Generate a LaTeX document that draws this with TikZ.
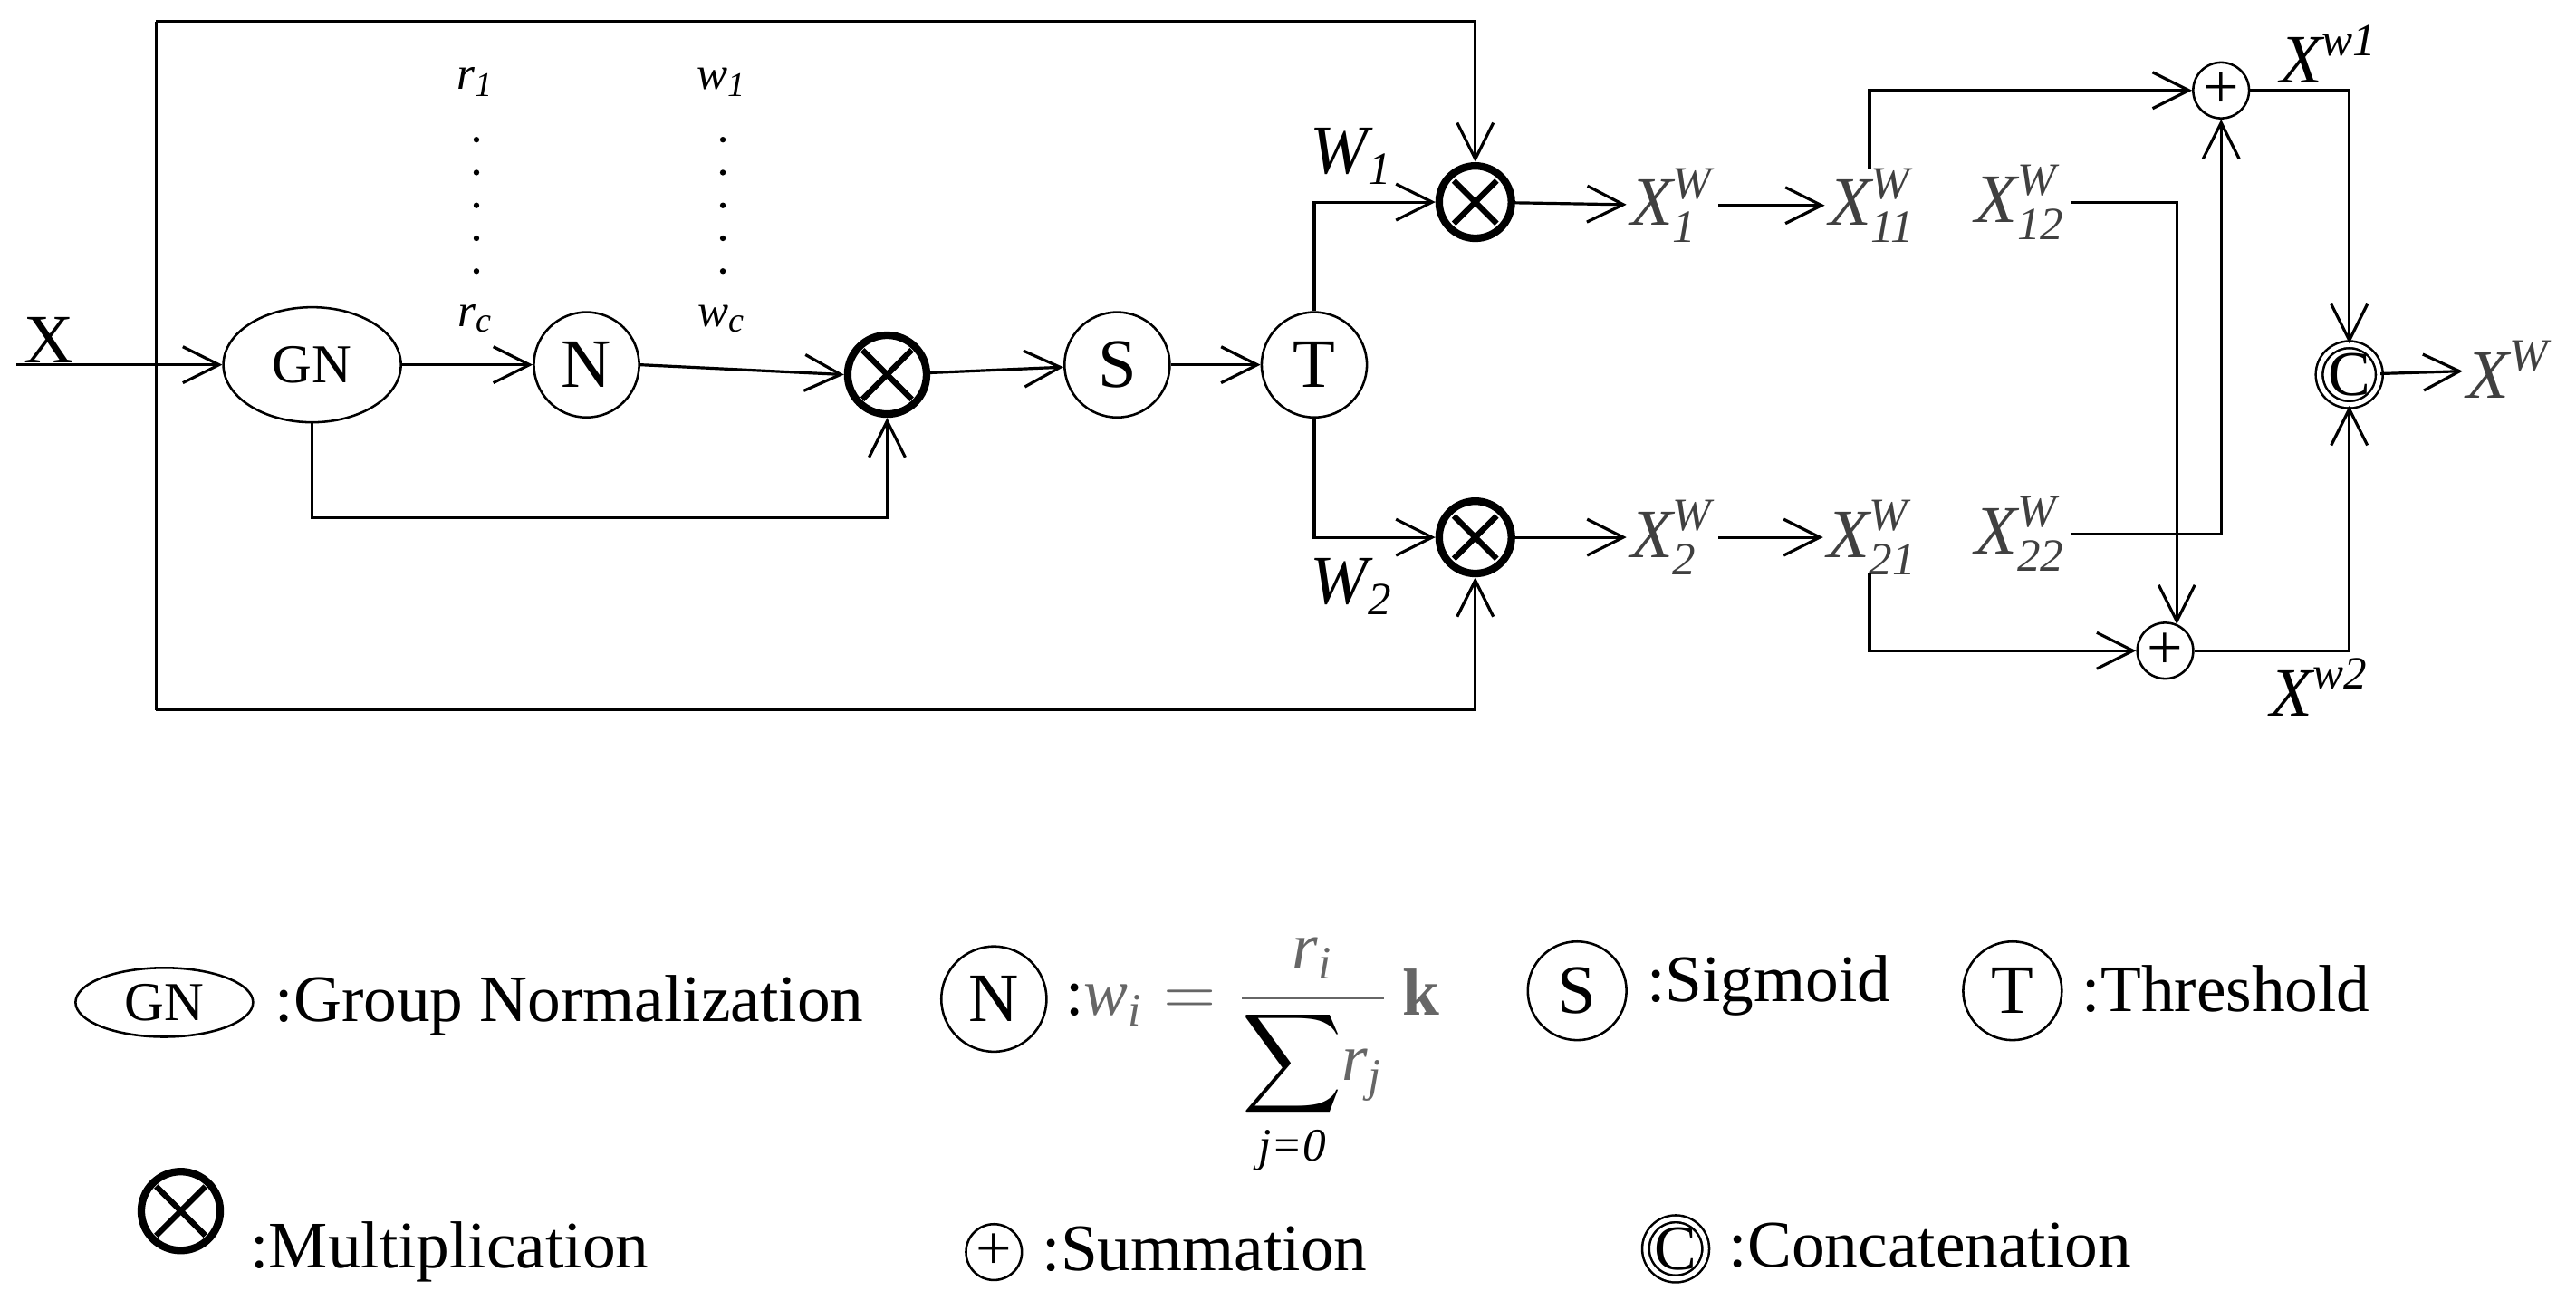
\documentclass[tikz,border=0pt]{standalone}
\usepackage{amsmath}
\usepackage{fontspec}
\setmainfont{Liberation Serif}
\usetikzlibrary{arrows.meta,shapes.geometric}
\begin{document}
\begin{tikzpicture}[x=0.01cm,y=-0.01cm,
  every node/.style={font=\fontsize{10.5}{12}\selectfont},
  arr/.style={-{Straight Barb[length=2.2mm,width=2.2mm]},line width=0.5pt},
  ln/.style={line width=0.5pt},
  circ/.style={draw,circle,minimum size=0.64cm,inner sep=0pt,font=\fontsize{12}{14}\selectfont},
  ell/.style={draw,ellipse,minimum width=1.08cm,minimum height=0.7cm,inner sep=0pt,font=\fontsize{9.5}{11}\selectfont},
  mult/.style={draw,circle,line width=1.3pt,minimum size=0.48cm,inner sep=0pt,
    path picture={\draw[line width=1pt] (path picture bounding box.south west)++(0.09cm,0.09cm) -- ([xshift=-0.09cm,yshift=-0.09cm]path picture bounding box.north east);
      \draw[line width=1pt] ([xshift=0.09cm,yshift=-0.09cm]path picture bounding box.north west) -- ([xshift=-0.09cm,yshift=0.09cm]path picture bounding box.south east);}},
  plus/.style={draw,circle,minimum size=0.34cm,inner sep=0pt,font=\fontsize{11}{12}\selectfont},
  lab/.style={text=black!75,inner sep=0.5pt,font=\fontsize{12}{14}\selectfont\itshape},
  small/.style={font=\fontsize{8}{9}\selectfont\itshape},
  leg/.style={anchor=west,font=\fontsize{11.5}{14}\selectfont}
]
\useasboundingbox (0,0) rectangle (1568,797);
% outer frame
\coordinate (tl) at (95,13); \coordinate (bl) at (95,432);
\coordinate (tr) at (898,13); \coordinate (br) at (898,432);
% main nodes
\node[font=\fontsize{12}{14}\selectfont] (X) at (30,207) {X};
\coordinate (xin) at (10,222);
\node[ell] (GN) at (190,222) {GN};
\node[circ] (N) at (357,222) {N};
\node[mult] (M0) at (540,228) {};
\node[circ] (S) at (680,222) {S};
\node[circ] (T) at (800,222) {T};
\node[mult,minimum size=0.44cm] (M1) at (898,123) {};
\node[mult,minimum size=0.44cm] (M2) at (898,327) {};
\node[small] (r1) at (290,50) {r\textsubscript{1}};
\node[small] (rc) at (290,194) {r\textsubscript{c}};
\node[small] (w1) at (440,50) {w\textsubscript{1}};
\node[small] (wc) at (440,194) {w\textsubscript{c}};
\foreach \y in {85,105,125,145,165}{\fill (290,\y) circle (0.5pt); \fill (440,\y) circle (0.5pt);}
\node[lab,text=black] (W1) at (823,95) {$\textit{W}_{\textrm{1}}$};
\node[lab,text=black] (W2) at (823,357) {$\textit{W}_{\textrm{2}}$};
\node[lab] (X1) at (1018,125) {$\textit{X}^{\textit{W}}_{\textit{1}}$};
\node[lab] (X2) at (1018,327) {$\textit{X}^{\textit{W}}_{\textit{2}}$};
\node[lab] (X11) at (1140,125) {$\textit{X}^{\textit{W}}_{\textit{11}}$};
\node[lab] (X21) at (1140,327) {$\textit{X}^{\textit{W}}_{\textit{21}}$};
\node[lab] (X12) at (1230,123) {$\textit{X}^{\textit{W}}_{\textit{12}}$};
\node[lab] (X22) at (1230,325) {$\textit{X}^{\textit{W}}_{\textit{22}}$};
\node[plus] (P1) at (1352,55) {+};
\node[plus] (P2) at (1318,396) {+};
\node[circ,minimum size=0.36cm,double,double distance=0.8pt,font=\fontsize{11}{12}\selectfont] (C) at (1430,228) {C};
\node[lab] (XW) at (1527,225) {$\textit{X}^{\textit{W}}$};
\node[lab,text=black] (Xw1) at (1418,33) {$\textit{X}^{\textit{w}\textrm{1}}$};
\node[lab,text=black] (Xw2) at (1412,418) {$\textit{X}^{\textit{w}\textrm{2}}$};
% connectors
\draw[ln] (tl) -- (bl);
\draw[arr] (tl) -- (tr) -- (M1.north);
\draw[arr] (bl) -- (br) -- (M2.south);
\draw[arr] (xin) -- (GN.west);
\draw[arr] (GN) -- (N);
\draw[arr] (N.east) -- (M0.west);
\draw[arr] (GN.south) |- (540,315) -- (M0.south);
\draw[arr] (M0) -- (S);
\draw[arr] (S) -- (T);
\draw[arr] (T.north) |- (M1.west);
\draw[arr] (T.south) |- (M2.west);
\draw[arr] (M1) -- (X1);
\draw[arr] (M2) -- (X2);
\draw[arr] (X1.east) -- (X11.west);
\draw[arr] (X2.east) -- (X21.west);
\draw[arr] (1138,103) |- (P1.west);
\draw[arr] (1138,349) |- (P2.west);
\draw[arr] (X12.east) -| (1325,380);
\draw[arr] (X22.east) -| (P1.south);
\draw[arr] (P1.east) -| (C.north);
\draw[arr] (P2.east) -| (C.south);
\draw[arr] (C) -- (XW);
% legend
\node[ell,minimum height=0.42cm] (lGN) at (100,610) {GN};
\node[leg] (tGN) at (155,612) {:Group Normalization};
\node[circ] (lN) at (605,608) {N};
\node[anchor=base west,text=black!60,font=\fontsize{11.5}{14}\selectfont] (tN) at (636,618)
  {\textcolor{black}{:}$\textit{w}_{\textit{i}}=\dfrac{\textit{r}_{\textit{i}}}{\displaystyle\textcolor{black}{\sum_{\textit{j=0}}}\textit{r}_{\textit{j}}}\,\textbf{k}$};
\node[circ,minimum size=0.6cm] (lS) at (960,603) {S};
\node[leg] (tS) at (990,600) {:Sigmoid};
\node[circ,minimum size=0.6cm] (lT) at (1225,603) {T};
\node[leg] (tT) at (1255,602) {:Threshold};
\node[mult] (lM) at (110,737) {};
\node[leg] (tM) at (140,762) {:Multiplication};
\node[plus] (lP) at (605,762) {+};
\node[leg] (tP) at (622,760) {:Summation};
\node[circ,minimum size=0.36cm,double,double distance=0.8pt,font=\fontsize{11}{12}\selectfont] (lC) at (1020,760) {C};
\node[leg] (tC) at (1040,758) {:Concatenation};
\end{tikzpicture}
\end{document}
